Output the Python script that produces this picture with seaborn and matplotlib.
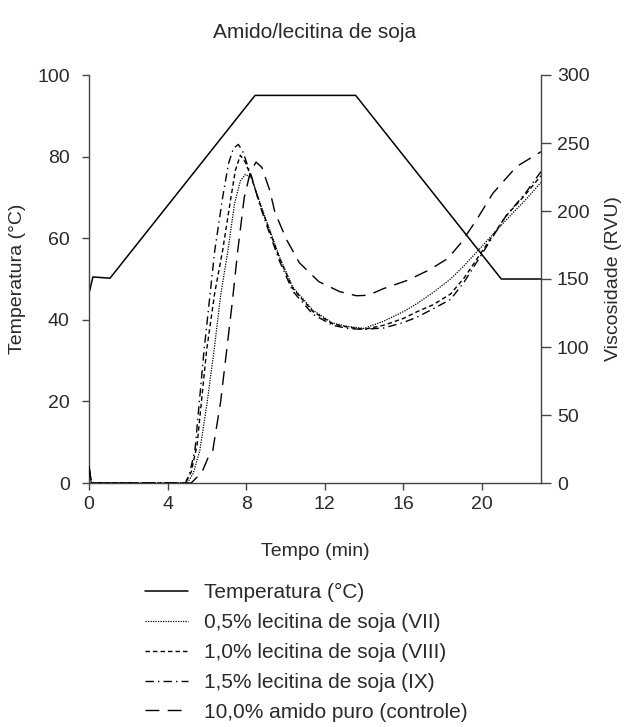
import matplotlib
matplotlib.use("Agg")
import matplotlib.pyplot as plt
import seaborn as sns

# ---------------- data ----------------
temp_t = [0, 0.2, 1.07, 8.45, 13.57, 20.98, 23.0]
temp_v = [46.5, 50.5, 50.2, 95, 95, 50, 50]

v05_t = [0, 0.12, 5.0, 5.3, 5.64, 6.0, 6.36, 6.7, 7.07, 7.4, 7.7, 7.96, 8.28, 8.7, 9.2, 9.7,
         10.37, 11.4, 12.4, 13.2, 14.0, 15.0, 16.0, 16.7, 17.5, 18.4, 19.1, 19.8, 20.5, 21.2, 22.2, 23.0]
v05_v = [12, 0, 0, 7, 24, 58, 97, 138, 171, 205, 222, 227, 224, 206, 186, 166,
         144, 127, 117.6, 115, 113.7, 119, 126, 132, 140, 150, 160, 171, 182, 193, 208, 221]

v10_t = [0, 0.12, 4.9, 5.2, 5.5, 5.98, 6.4, 6.8, 7.2, 7.45, 7.7, 7.95, 8.28, 8.7, 9.2, 9.7,
         10.37, 11.4, 12.4, 13.2, 14.0, 15.0, 16.0, 16.7, 17.5, 18.4, 19.1, 19.8, 20.5, 21.2, 22.2, 23.0]
v10_v = [12, 0, 0, 8, 28, 97, 140, 171, 208, 230, 241, 236, 224, 205, 185, 165,
         143, 126, 117, 114.5, 113, 116, 121, 126, 131, 139, 151, 166, 181, 196, 212, 226]

v15_t = [0, 0.12, 4.9, 5.1, 5.39, 5.85, 6.4, 6.8, 7.1, 7.35, 7.6, 7.85, 8.1, 8.28, 8.7, 9.2, 9.7,
         10.37, 11.4, 12.4, 13.2, 14.0, 15.0, 16.0, 16.7, 17.5, 18.4, 19.1, 19.8, 20.5, 21.2, 22.2, 23.0]
v15_v = [12, 0, 0, 6, 24, 97, 171, 210, 235, 246, 249, 243, 232, 225, 204, 183, 163,
         141, 124, 116, 113.5, 113, 114, 118, 122, 128, 135, 148, 164, 180, 196, 213, 229]

ctrl_t = [0, 0.12, 5.2, 5.75, 6.07, 6.3, 6.7, 7.0, 7.3, 7.57, 7.9, 8.2, 8.5, 8.8, 9.2, 9.46, 10.05,
          10.7, 11.7, 12.76, 13.6, 14.2, 15.0, 16.2, 17.3, 18.25, 18.9, 19.7, 20.55, 21.75, 23.0]
ctrl_v = [12, 0, 0, 8, 19, 24, 60, 97, 134, 171, 210, 228, 236, 232, 215, 199, 179,
          162, 148, 140.7, 137.7, 138, 143, 149, 156.6, 165, 176, 193, 213, 232.6, 243.6]

labels = ["Temperatura (°C)", "0,5% lecitina de soja (VII)", "1,0% lecitina de soja (VIII)",
          "1,5% lecitina de soja (IX)", "10,0% amido puro (controle)"]
x_ticks = [0, 4, 8, 12, 16, 20]
yl_ticks = [0, 20, 40, 60, 80, 100]
yr_ticks = [0, 50, 100, 150, 200, 250, 300]

# ---------------- style ----------------
sns.set_style("ticks")
plt.rcParams["font.family"] = ["Liberation Sans", "DejaVu Sans"]
txt = "#2a2a2a"
spc = "#444444"

fig = plt.figure(figsize=(6.28, 7.27), dpi=100)
ax = fig.add_axes([89 / 628, 1 - 483 / 727, (541 - 89) / 628, (483 - 75) / 727])
ax2 = ax.twinx()

sns.lineplot(x=temp_t, y=temp_v, ax=ax, color="black", lw=1.1, label=labels[0],
             sort=False, estimator=None, legend=False)
sns.lineplot(x=v05_t, y=v05_v, ax=ax2, color="black", lw=0.9, linestyle=(0, (1, 1)),
             label=labels[1], sort=False, estimator=None, legend=False)
sns.lineplot(x=v10_t, y=v10_v, ax=ax2, color="black", lw=1.0, linestyle=(0, (3.2, 2.2)),
             label=labels[2], sort=False, estimator=None, legend=False)
sns.lineplot(x=v15_t, y=v15_v, ax=ax2, color="black", lw=1.0, linestyle=(0, (6, 3, 1, 3)),
             label=labels[3], sort=False, estimator=None, legend=False)
sns.lineplot(x=ctrl_t, y=ctrl_v, ax=ax2, color="black", lw=1.0, linestyle=(0, (10, 6)),
             label=labels[4], sort=False, estimator=None, legend=False)

for a in (ax, ax2):
    if a.get_legend() is not None:
        a.get_legend().remove()

ax.set_xlim(0, 23)
ax.set_ylim(0, 100)
ax2.set_ylim(0, 300)
ax.set_xticks(x_ticks)
ax.set_yticks(yl_ticks)
ax2.set_yticks(yr_ticks)

for a in (ax, ax2):
    a.spines["top"].set_visible(False)
    for s in ("left", "right", "bottom"):
        a.spines[s].set_color(spc)
        a.spines[s].set_linewidth(1.0)
ax.spines["right"].set_visible(False)
ax2.spines["left"].set_visible(False)
ax2.spines["bottom"].set_visible(False)

fs = 14
ax.tick_params(axis="y", length=5.3, pad=8.5, width=1.0, color=spc, labelsize=fs, labelcolor=txt)
ax.tick_params(axis="x", length=5, pad=4.5, width=1.0, color=spc, labelsize=fs, labelcolor=txt)
ax2.tick_params(axis="y", length=7, pad=4.5, width=1.0, color=spc, labelsize=fs, labelcolor=txt)

ax.set_xlabel("Tempo (min)", fontsize=fs, color=txt)
ax.set_ylabel("Temperatura (°C)", fontsize=fs, color=txt)
ax2.set_ylabel("Viscosidade (RVU)", fontsize=fs, color=txt)
ax.xaxis.set_label_coords(0.5, -0.147)
ax.yaxis.set_label_coords(-0.14, 0.5)
ax2.yaxis.set_label_coords(1.141, 0.5)

ax.set_title("Amido/lecitina de soja", fontsize=fs + 1, color=txt, pad=27)

h1, l1 = ax.get_legend_handles_labels()
h2, l2 = ax2.get_legend_handles_labels()
leg = fig.legend(h1 + h2, l1 + l2, loc="upper left", bbox_to_anchor=(0.217, 0.209),
                 frameon=False, fontsize=fs + 1, handlelength=2.1, handletextpad=0.75,
                 labelspacing=0.52, borderaxespad=0)
for t in leg.get_texts():
    t.set_color(txt)

fig.savefig("out.png", dpi=100)
